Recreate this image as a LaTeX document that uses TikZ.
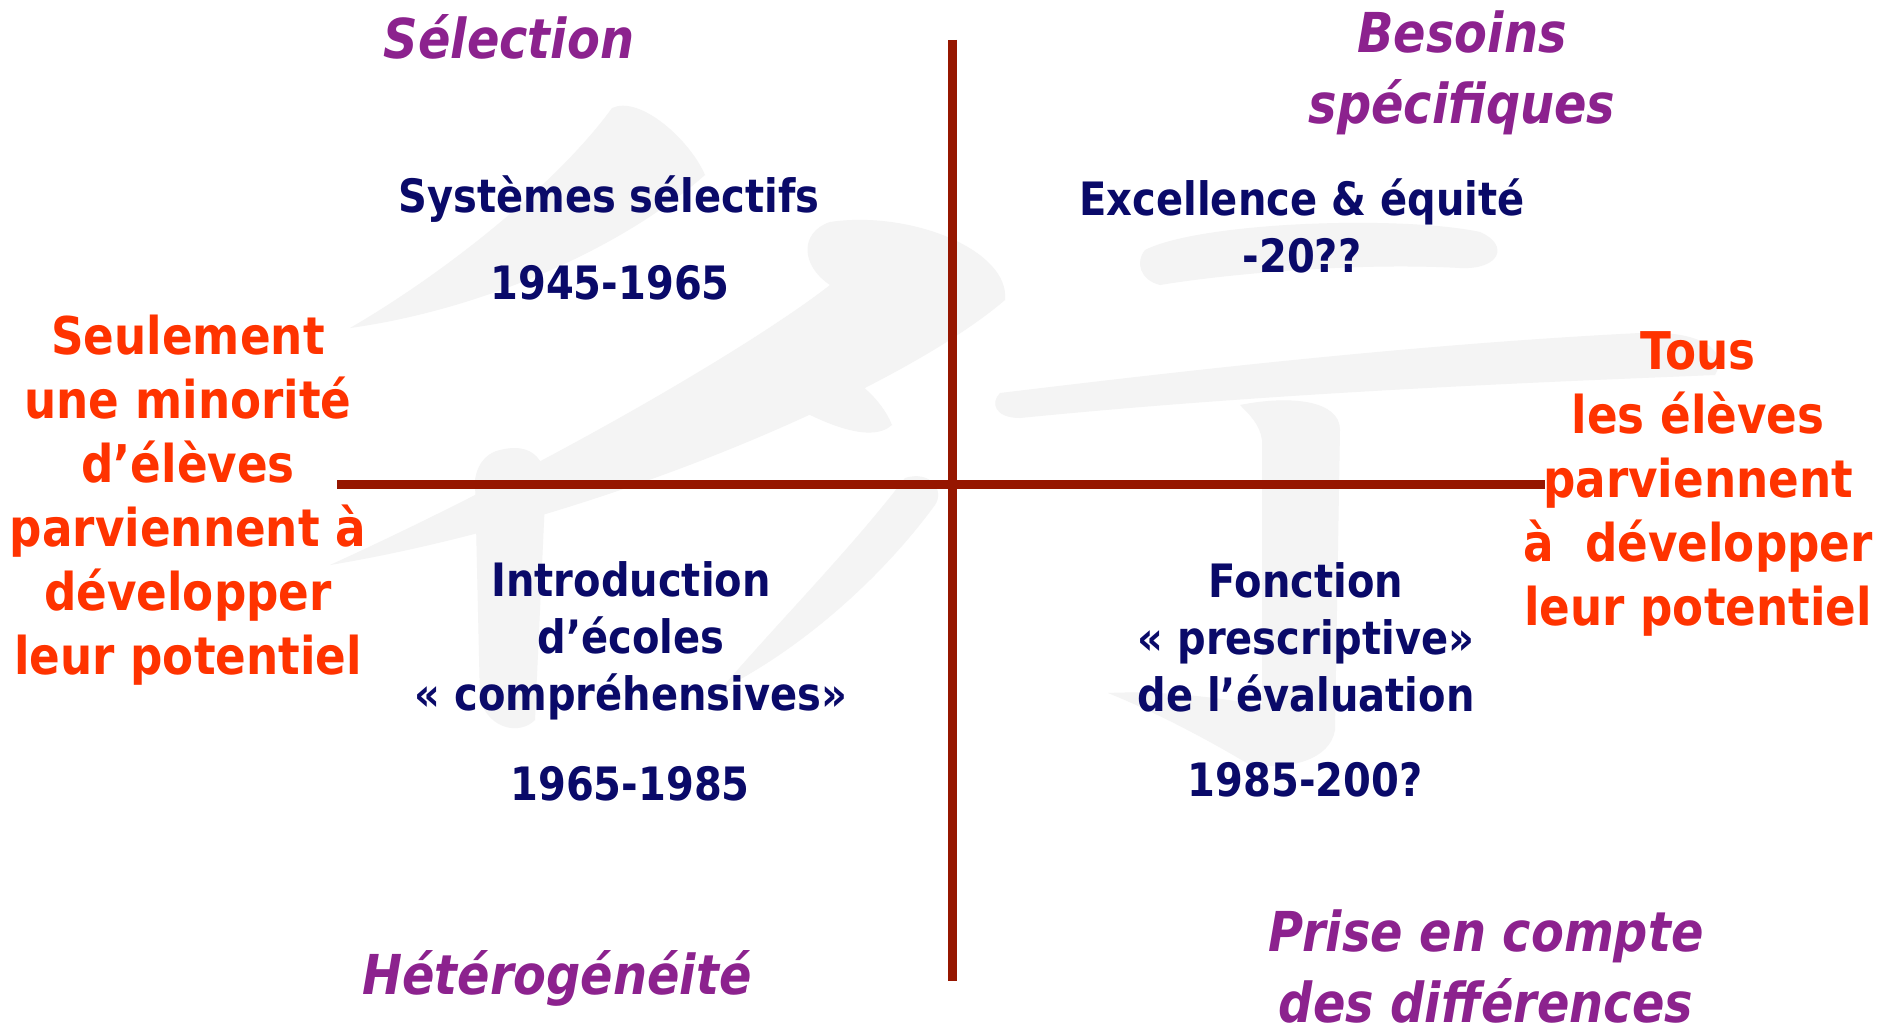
\documentclass[tikz,border=0pt]{standalone}
\usepackage{fontspec}
\setmainfont{DejaVu Sans}[FakeStretch=0.87]
\definecolor{axisred}{RGB}{150,22,0}
\definecolor{navytxt}{RGB}{10,10,105}
\definecolor{purpletxt}{RGB}{140,34,142}
\definecolor{redtxt}{RGB}{255,51,0}
\definecolor{wmark}{RGB}{244,244,244}
\tikzset{
  navybox/.style={text=navytxt, font=\bfseries\fontsize{46}{57}\selectfont, align=center, inner sep=0pt},
  purplebox/.style={text=purpletxt, font=\bfseries\itshape\fontsize{55}{71}\selectfont, align=center, inner sep=0pt},
  redbox/.style={text=redtxt, font=\bfseries\fontsize{52}{64}\selectfont, align=center, inner sep=0pt},
  axisline/.style={draw=axisred, line width=9pt},
  wstroke/.style={fill=wmark, draw=none}
}
\begin{document}
\begin{tikzpicture}[x=1pt,y=-1pt]
\useasboundingbox[fill=white] (0,0) rectangle (1888,1033);
% watermark character strokes
\fill[wstroke] (612,108) .. controls (640,95) and (690,140) .. (705,175) .. controls (620,250) and (480,310) .. (350,328) .. controls (450,270) and (560,180) .. (612,108) -- cycle;
\fill[wstroke] (830,222) .. controls (910,210) and (1010,250) .. (1005,300) .. controls (900,390) and (600,520) .. (330,565) .. controls (560,460) and (760,340) .. (830,285) .. controls (800,265) and (800,232) .. (830,222) -- cycle;
\fill[wstroke] (735,355) .. controls (780,335) and (870,370) .. (892,425) .. controls (870,445) and (815,425) .. (735,370) -- cycle;
\fill[wstroke] (905,478) .. controls (930,470) and (945,490) .. (935,505) .. controls (880,580) and (800,650) .. (720,690) .. controls (780,620) and (850,550) .. (905,478) -- cycle;
\fill[wstroke] (500,450) .. controls (540,440) and (550,470) .. (545,500) -- (535,720) .. controls (520,735) and (490,730) .. (480,700) -- (475,480) .. controls (478,460) and (490,452) .. (500,450) -- cycle;
\fill[wstroke] (1145,250) .. controls (1200,222) and (1400,215) .. (1480,232) .. controls (1510,245) and (1500,270) .. (1460,268) .. controls (1350,262) and (1220,275) .. (1160,285) .. controls (1140,280) and (1135,262) .. (1145,250) -- cycle;
\fill[wstroke] (1000,393) .. controls (1150,375) and (1400,345) .. (1640,333) .. controls (1700,330) and (1730,350) .. (1715,375) .. controls (1600,380) and (1300,390) .. (1020,418) .. controls (995,418) and (990,403) .. (1000,393) -- cycle;
\fill[wstroke] (1240,405) .. controls (1290,395) and (1340,400) .. (1340,430) -- (1335,730) .. controls (1330,760) and (1290,770) .. (1250,765) .. controls (1200,735) and (1150,710) .. (1108,693) .. controls (1170,690) and (1230,700) .. (1262,705) -- (1262,440) .. controls (1260,425) and (1250,415) .. (1240,405) -- cycle;
% axes
\coordinate (vtop) at (952,40);
\coordinate (vbot) at (952,981);
\coordinate (hleft) at (337,484);
\coordinate (hright) at (1545,484);
\draw[axisline] (vtop) -- (vbot);
\draw[axisline] (hleft) -- (hright);
% purple corner labels
\node[purplebox] (sel) at (509,37) {Sélection};
\node[purplebox] (bes) at (1462,73) {Besoins\\spécifiques};
\node[purplebox] (het) at (557,978) {Hétérogénéité};
\node[purplebox] (pri) at (1486,966) {Prise en compte\\des différences};
% navy quadrant labels
\node[navybox] (sys) at (609,199) {Systèmes sélectifs};
\node[navybox] (y1) at (610,283) {1945-1965};
\node[navybox] (exc) at (1302,226) {Excellence \& équité\\-20??};
\node[navybox] (intro) at (631,641) {Introduction\\d’écoles\\« compréhensives»};
\node[navybox] (y2) at (630,784) {1965-1985};
\node[navybox] (fon) at (1306,637) {Fonction\\« prescriptive»\\de l’évaluation};
\node[navybox] (y3) at (1305,780) {1985-200?};
% red side labels
\node[redbox] (left) at (188,500) {Seulement\\une minorité\\d’élèves\\parviennent à\\développer\\leur potentiel};
\node[redbox] (right) at (1698,484) {Tous\\les élèves\\parviennent\\à\ \ développer\\leur potentiel};
\end{tikzpicture}
\end{document}
